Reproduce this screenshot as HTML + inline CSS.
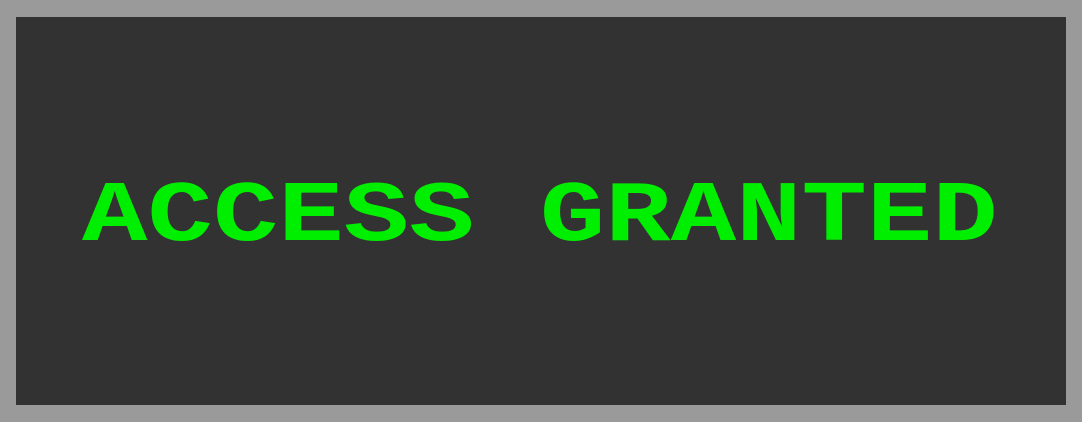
<!DOCTYPE html>
<html><head><style>
html,body{margin:0;padding:0;width:1082px;height:422px;overflow:hidden;background:#9a9a9a;}
.box{position:absolute;left:16px;top:17px;width:1050px;height:388px;background:#323232;}
.t{position:absolute;left:82px;top:155px;font-family:"Liberation Mono",monospace;font-weight:bold;font-size:109px;line-height:110px;color:#00ee00;white-space:pre;transform:scaleY(0.79);transform-origin:0 88px;}
</style></head><body>
<div class="box"></div>
<div class="t">ACCESS GRANTED</div>
</body></html>
